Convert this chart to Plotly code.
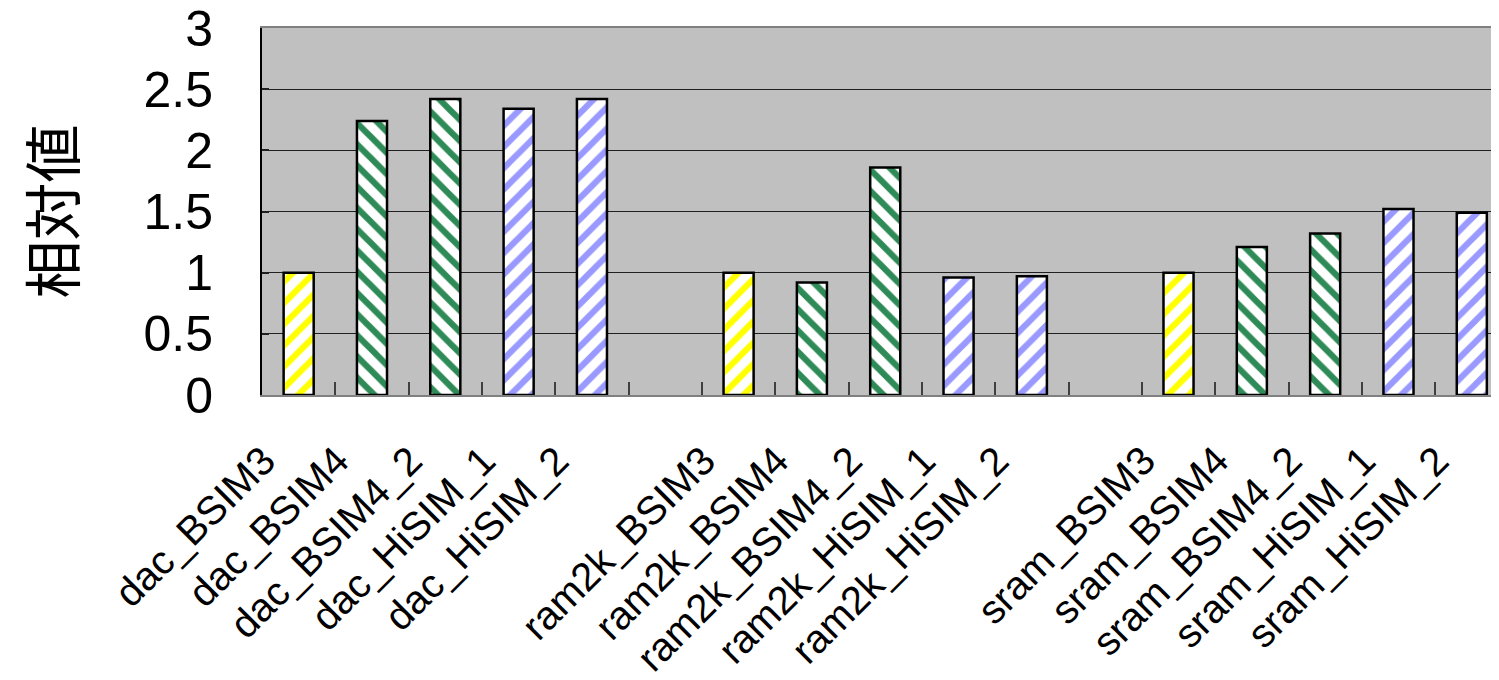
import plotly.graph_objects as go

categories = [
    "dac_BSIM3", "dac_BSIM4", "dac_BSIM4_2", "dac_HiSIM_1", "dac_HiSIM_2", " ",
    "ram2k_BSIM3", "ram2k_BSIM4", "ram2k_BSIM4_2", "ram2k_HiSIM_1", "ram2k_HiSIM_2", "  ",
    "sram_BSIM3", "sram_BSIM4", "sram_BSIM4_2", "sram_HiSIM_1", "sram_HiSIM_2",
]
values = [
    1.0, 2.24, 2.42, 2.34, 2.42, None,
    1.0, 0.92, 1.86, 0.96, 0.97, None,
    1.0, 1.21, 1.32, 1.52, 1.49,
]
model_type = [
    "BSIM3", "BSIM4", "BSIM4", "HiSIM", "HiSIM", None,
    "BSIM3", "BSIM4", "BSIM4", "HiSIM", "HiSIM", None,
    "BSIM3", "BSIM4", "BSIM4", "HiSIM", "HiSIM",
]
y_tickvals = [0, 0.5, 1, 1.5, 2, 2.5, 3]
y_ticktext = ["0", "0.5", "1", "1.5", "2", "2.5", "3"]
y_title = "相対値"

style = {
    "BSIM3": ("#FFFF00", "/"),
    "BSIM4": ("#2E8B57", "\\"),
    "HiSIM": ("#9999FF", "/"),
    None: ("#FFFFFF", ""),
}
fg = [style[m][0] for m in model_type]
shapes = [style[m][1] for m in model_type]

fig = go.Figure(go.Bar(
    x=categories, y=values,
    marker=dict(
        color="white",
        line=dict(color="black", width=2.5),
        pattern=dict(shape=shapes, fgcolor=fg, bgcolor="white",
                     fgopacity=1, size=15, solidity=0.42, fillmode="replace"),
    ),
    showlegend=False,
))

fig.update_layout(
    width=1499, height=680,
    margin=dict(l=254, r=0, t=20, b=293),
    paper_bgcolor="white", plot_bgcolor="#C0C0C0",
    bargap=0.59,
    font=dict(family="Liberation Sans, Arial, sans-serif", color="black"),
)
fig.update_xaxes(
    type="category", range=[-0.5, 16.48], automargin=False,
    tickson="boundaries", ticks="inside", ticklen=13, tickwidth=1.5, tickcolor="#404040",
    tickangle=-45, tickfont=dict(size=40, family="Liberation Sans, Arial, sans-serif"),
    showline=True, linecolor="#808080", linewidth=2, mirror=True,
    showgrid=False, ticklabelstandoff=24, ticklabelshift=-35,
    ticklabeloverflow="allow",
)
fig.update_yaxes(
    range=[0, 3], tickmode="array", tickvals=y_tickvals, ticktext=y_ticktext,
    automargin=False, ticklabeloverflow="allow",
    ticks="inside", ticklen=7, tickwidth=1.5, tickcolor="#202020",
    showline=True, linecolor="black", linewidth=2,
    showgrid=True, gridcolor="#202020", gridwidth=1.2,
    tickfont=dict(size=50, family="Liberation Sans, Arial, sans-serif"),
    ticklabelstandoff=37,
    title=dict(text=y_title, font=dict(size=58, family="Noto Sans CJK JP"), standoff=68),
    zeroline=False,
)

fig.write_html("out.html")
